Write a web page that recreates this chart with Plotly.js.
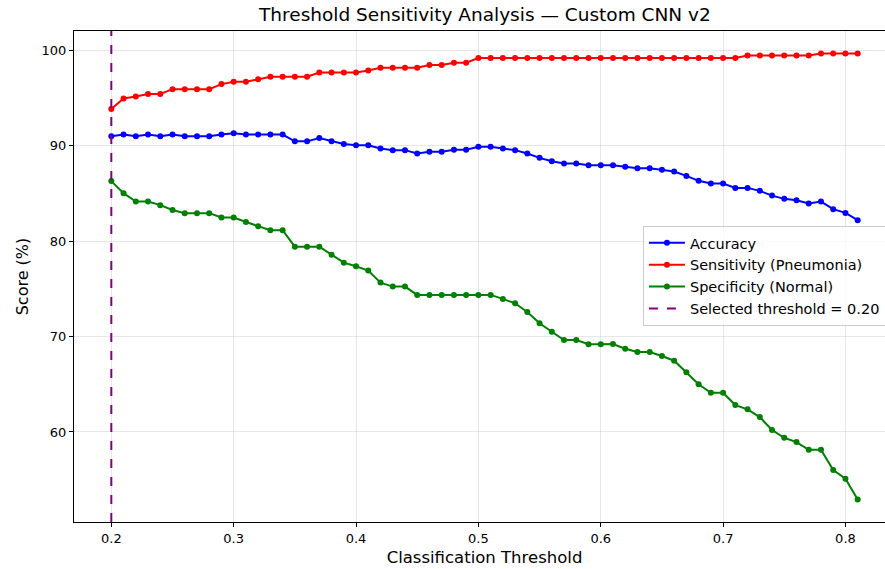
<!DOCTYPE html>
<html>
<head>
<meta charset="utf-8">
<script src="https://cdn.plot.ly/plotly-3.0.1.min.js"></script>
<style>
html,body{margin:0;padding:0;overflow:hidden;background:#fff;}
#chart{width:895px;height:569px;}
</style>
</head>
<body>
<div id="chart"></div>
<script>
// Thresholds 0.20 .. 0.81
const thresholds = [0.20,0.21,0.22,0.23,0.24,0.25,0.26,0.27,0.28,0.29,
  0.30,0.31,0.32,0.33,0.34,0.35,0.36,0.37,0.38,0.39,
  0.40,0.41,0.42,0.43,0.44,0.45,0.46,0.47,0.48,0.49,
  0.50,0.51,0.52,0.53,0.54,0.55,0.56,0.57,0.58,0.59,
  0.60,0.61,0.62,0.63,0.64,0.65,0.66,0.67,0.68,0.69,
  0.70,0.71,0.72,0.73,0.74,0.75,0.76,0.77,0.78,0.79,
  0.80,0.81];

const accuracy = [91.0,91.18,91.0,91.18,91.0,91.18,91.0,91.0,91.0,91.18,
  91.33,91.18,91.18,91.18,91.18,90.47,90.47,90.82,90.47,90.19,
  90.05,90.05,89.72,89.55,89.55,89.19,89.37,89.37,89.58,89.58,
  89.90,89.90,89.72,89.55,89.19,88.74,88.39,88.14,88.14,87.97,
  87.97,87.97,87.80,87.66,87.66,87.48,87.30,86.85,86.33,86.04,
  86.04,85.59,85.59,85.28,84.78,84.44,84.30,83.95,84.16,83.36,
  82.97,82.20];

const sensitivity = [93.85,94.96,95.17,95.44,95.44,95.94,95.94,95.94,95.94,96.47,
  96.71,96.71,96.99,97.24,97.24,97.24,97.24,97.69,97.69,97.69,
  97.69,97.90,98.18,98.18,98.18,98.18,98.47,98.47,98.71,98.71,
  99.20,99.20,99.20,99.20,99.20,99.20,99.20,99.20,99.20,99.20,
  99.20,99.20,99.20,99.20,99.20,99.20,99.20,99.20,99.20,99.20,
  99.20,99.20,99.48,99.48,99.48,99.48,99.48,99.48,99.69,99.69,
  99.69,99.69];

const specificity = [86.30,85.04,84.16,84.16,83.78,83.28,82.94,82.94,82.94,82.48,
  82.48,82.02,81.57,81.15,81.15,79.43,79.43,79.43,78.59,77.75,
  77.38,76.92,75.66,75.24,75.24,74.37,74.37,74.37,74.37,74.37,
  74.37,74.37,73.95,73.49,72.58,71.40,70.51,69.64,69.64,69.20,
  69.20,69.22,68.73,68.38,68.38,67.97,67.47,66.25,65.00,64.11,
  64.11,62.82,62.37,61.56,60.20,59.39,58.94,58.13,58.13,56.00,
  55.09,52.93];

const selectedThreshold = 0.20;
const seriesNames = ["Accuracy","Sensitivity (Pneumonia)","Specificity (Normal)"];
const seriesColors = ["#0000ff","#ff0000","#008000"];
const seriesValues = [accuracy, sensitivity, specificity];

const FONT = "DejaVu Sans, Liberation Sans, sans-serif";

const traces = seriesValues.map((vals, i) => ({
  x: thresholds, y: vals, type: "scatter", mode: "lines+markers",
  name: seriesNames[i],
  line: {color: seriesColors[i], width: 2},
  marker: {color: seriesColors[i], size: 6}
}));

const layout = {
  width: 895, height: 569,
  margin: {l: 74, r: 0, t: 31, b: 47},
  paper_bgcolor: "#fff", plot_bgcolor: "#fff",
  font: {family: FONT, size: 13, color: "#000"},
  title: {text: "Threshold Sensitivity Analysis — Custom CNN v2",
    font: {family: FONT, size: 18.5, color: "#000"},
    x: 0.5418, xanchor: "center", yref: "container", y: 1 - 15/569, yanchor: "middle"},
  xaxis: {range: [0.1695, 0.8405], dtick: 0.1, tick0: 0.2, tickformat: ".1f",
    showgrid: true, gridcolor: "rgba(176,176,176,0.3)", gridwidth: 1,
    zeroline: false, showline: true, mirror: true, linecolor: "#000", linewidth: 1,
    ticks: "outside", ticklen: 4, tickcolor: "#000",
    tickfont: {family: FONT, size: 13, color: "#000"},
    title: {text: "Classification Threshold", font: {family: FONT, size: 16.5, color: "#000"}, standoff: 6},
    automargin: false},
  yaxis: {range: [50.56, 102.04], dtick: 10, tick0: 60,
    showgrid: true, gridcolor: "rgba(176,176,176,0.3)", gridwidth: 1,
    zeroline: false, showline: true, mirror: true, linecolor: "#000", linewidth: 1,
    ticks: "outside", ticklen: 4, tickcolor: "#000",
    tickfont: {family: FONT, size: 13, color: "#000"},
    title: {text: "Score (%)", font: {family: FONT, size: 16, color: "#000"}, standoff: 8},
    automargin: false},
  shapes: [{type: "line", xref: "x", yref: "paper", x0: selectedThreshold, x1: selectedThreshold,
    y0: 0, y1: 1, line: {color: "#800080", width: 2, dash: "dash"},
    showlegend: true, name: "Selected threshold = " + selectedThreshold.toFixed(2)}],
  legend: {x: 0.693, y: 0.603, xanchor: "left", yanchor: "top",
    bgcolor: "rgba(255,255,255,0.8)", bordercolor: "#cccccc", borderwidth: 1,
    font: {family: FONT, size: 14.5, color: "#000"}, itemwidth: 36},
  showlegend: true
};

Plotly.newPlot("chart", traces, layout, {displayModeBar: false, staticPlot: true});
</script>
</body>
</html>
